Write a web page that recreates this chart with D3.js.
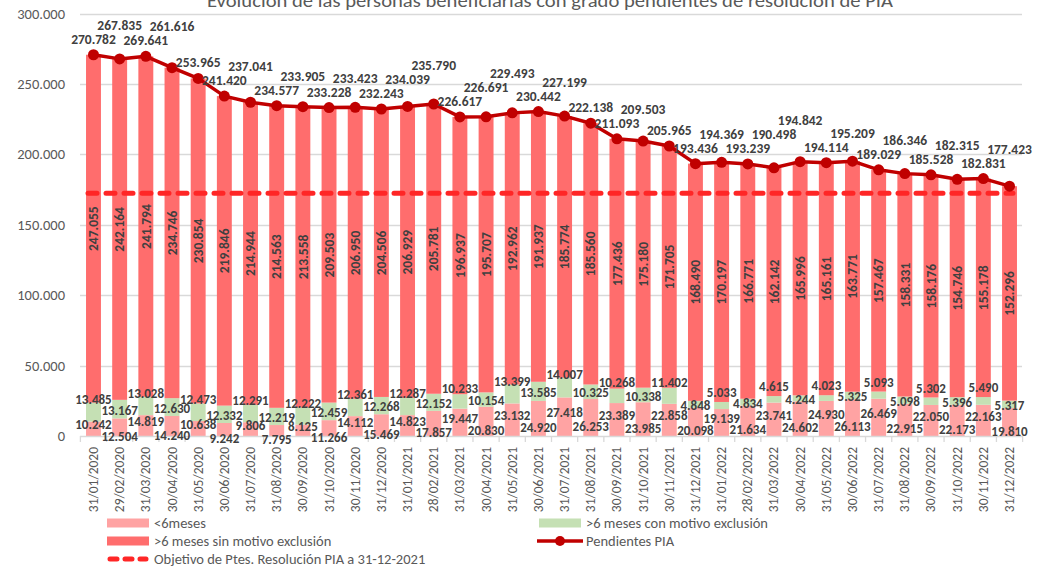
<!DOCTYPE html>
<html>
<head>
<meta charset="utf-8">
<script src="https://cdn.jsdelivr.net/npm/d3@7"></script>
<style>
  body { margin: 0; background: #fff; }
  svg { display: block; font-family: Carlito, Lato, "Liberation Sans", sans-serif; }
</style>
</head>
<body>
<svg id="chart" width="1057" height="568"></svg>
<script>
// datos (personas pendientes de resolucion de PIA)
const fechas = ["31/01/2020","29/02/2020","31/03/2020","30/04/2020","31/05/2020","30/06/2020",
  "31/07/2020","31/08/2020","30/09/2020","31/10/2020","30/11/2020","31/12/2020",
  "31/01/2021","28/02/2021","31/03/2021","30/04/2021","31/05/2021","30/06/2021",
  "31/07/2021","31/08/2021","30/09/2021","31/10/2021","30/11/2021","31/12/2021",
  "31/01/2022","28/02/2022","31/03/2022","30/04/2022","31/05/2022","30/06/2022",
  "31/07/2022","31/08/2022","30/09/2022","31/10/2022","30/11/2022","31/12/2022"];

const menos6 = [10242,12504,14819,14240,10638,9242,9806,7795,8125,11266,14112,15469,
  14823,17857,19447,20830,23132,24920,27418,26253,23389,23985,22858,20098,
  19139,21634,23741,24602,24930,26113,26469,22915,22050,22173,22163,19810];

const conMotivo = [13485,13167,13028,12630,12473,12332,12291,12219,12222,12459,12361,12268,
  12287,12152,10233,10154,13399,13585,14007,10325,10268,10338,11402,4848,
  5033,4834,4615,4244,4023,5325,5093,5098,5302,5396,5490,5317];

const sinMotivo = [247055,242164,241794,234746,230854,219846,214944,214563,213558,209503,206950,204506,
  206929,205781,196937,195707,192962,191937,185774,185560,177436,175180,171705,168490,
  170197,166771,162142,165996,165161,163771,157467,158331,158176,154746,155178,152296];

const pendientes = [270782,267835,269641,261616,253965,241420,237041,234577,233905,233228,233423,232243,
  234039,235790,226617,226691,229493,230442,227199,222138,211093,209503,205965,193436,
  194369,193239,190498,194842,194114,195209,189029,186346,185528,182315,182831,177423];

const objetivo = 172400;

const yTicks = [0, 50000, 100000, 150000, 200000, 250000, 300000];

const series = [
  { key: "menos6", name: "<6meses", color: "#FFA3A3" },
  { key: "con", name: ">6 meses con motivo exclusión", color: "#C5E0B4" },
  { key: "sin", name: ">6 meses sin motivo exclusión", color: "#FF6D6D" }
];

const rows = fechas.map((f, i) => ({
  fecha: f, menos6: menos6[i], con: conMotivo[i], sin: sinMotivo[i], pend: pendientes[i]
}));

const es = d3.formatLocale({ decimal: ",", thousands: ".", grouping: [3], currency: ["", " €"] });
const fmt = es.format(",d");

const svg = d3.select("#chart");
const textCol = "#404040", axisCol = "#595959";

const x = d3.scaleBand().domain(fechas).range([80.4, 1022.6]).paddingInner(0.43).paddingOuter(0.215);
const y = d3.scaleLinear().domain([0, 300000]).range([436, 13.6]);

// titulo (cortado arriba como en el original)
svg.append("text")
  .attr("x", 550).attr("y", 7)
  .attr("text-anchor", "middle")
  .attr("textLength", 686).attr("lengthAdjust", "spacingAndGlyphs")
  .style("font-size", "19px").style("fill", axisCol)
  .text("Evolución de las personas beneficiarias con grado pendientes de resolución de PIA");

// rejilla
svg.append("g").selectAll("line")
  .data(yTicks.filter(d => d > 0))
  .join("line")
  .attr("x1", 80).attr("x2", 1022)
  .attr("y1", d => Math.round(y(d)) + 0.5).attr("y2", d => Math.round(y(d)) + 0.5)
  .attr("stroke", "#D9D9D9").attr("stroke-width", 1.3);

// eje y
svg.append("g").selectAll("text")
  .data(yTicks)
  .join("text")
  .attr("x", 65).attr("y", d => y(d))
  .attr("dy", "0.35em")
  .attr("text-anchor", "end")
  .style("font-size", "14.5px").style("fill", axisCol)
  .text(d => fmt(d));

// barras apiladas
const stacked = d3.stack().keys(series.map(s => s.key))(rows);

const layers = svg.append("g").selectAll("g")
  .data(stacked)
  .join("g")
  .attr("fill", (d, i) => series[i].color);

layers.selectAll("rect")
  .data(d => d)
  .join("rect")
  .attr("x", d => x(d.data.fecha))
  .attr("width", x.bandwidth())
  .attr("y", d => y(d[1]))
  .attr("height", d => y(d[0]) - y(d[1]));

// eje x
const xAxis = svg.append("g");
xAxis.append("line")
  .attr("x1", 80).attr("x2", 1022.6).attr("y1", 436.5).attr("y2", 436.5)
  .attr("stroke", "#D9D9D9").attr("stroke-width", 1.3);

const step = x.step();
xAxis.selectAll("line.tick")
  .data(d3.range(fechas.length + 1))
  .join("line")
  .attr("class", "tick")
  .attr("x1", i => 80.4 + i * step).attr("x2", i => 80.4 + i * step)
  .attr("y1", 436).attr("y2", 442)
  .attr("stroke", "#D9D9D9").attr("stroke-width", 1.3);

xAxis.selectAll("text")
  .data(fechas)
  .join("text")
  .attr("transform", d => `translate(${x(d) + x.bandwidth() / 2 + 4.5},447) rotate(-90)`)
  .attr("text-anchor", "end")
  .style("font-size", "13.5px").style("fill", axisCol)
  .text(d => d);

// objetivo
svg.append("line")
  .attr("x1", 88).attr("x2", 1013)
  .attr("y1", y(objetivo)).attr("y2", y(objetivo))
  .attr("stroke", "#FF2626").attr("stroke-width", 5)
  .attr("stroke-linecap", "round")
  .attr("stroke-dasharray", "9,9");

// linea pendientes
const cx = d => x(d.fecha) + x.bandwidth() / 2;
svg.append("path")
  .datum(rows)
  .attr("d", d3.line().x(cx).y(d => y(d.pend)))
  .attr("fill", "none")
  .attr("stroke", "#C00000").attr("stroke-width", 3.5)
  .attr("stroke-linejoin", "round");

svg.append("g").selectAll("circle")
  .data(rows)
  .join("circle")
  .attr("cx", cx).attr("cy", d => y(d.pend))
  .attr("r", 5.5)
  .attr("fill", "#C00000");

// etiquetas
const labels = svg.append("g")
  .style("fill", textCol).style("font-size", "13.5px");

// colocar etiquetas de la linea sin que se pisen con la anterior
const pendY = [];
rows.forEach((d, i) => {
  let ly = y(d.pend) - 11;
  if (i > 0 && Math.abs(ly - pendY[i - 1]) < 14) ly = pendY[i - 1] - 14;
  pendY.push(ly);
});

labels.selectAll("text.pend")
  .data(rows)
  .join("text")
  .attr("class", "pend")
  .attr("x", cx)
  .attr("y", (d, i) => pendY[i])
  .attr("text-anchor", "middle")
  .style("font-weight", "bold")
  .text(d => fmt(d.pend));

// sin motivo: girado dentro de la barra
labels.selectAll("text.sin")
  .data(stacked[2])
  .join("text")
  .attr("class", "sin")
  .attr("transform", d => `translate(${cx(d.data)},${(y(d[0]) + y(d[1])) / 2}) rotate(-90)`)
  .attr("text-anchor", "middle")
  .attr("dy", "0.35em")
  .style("font-weight", "bold")
  .text(d => fmt(d[1] - d[0]));

labels.selectAll("text.con")
  .data(stacked[1])
  .join("text")
  .attr("class", "con")
  .attr("x", d => cx(d.data))
  .attr("y", (d, i) => (y(d[0]) + y(d[1])) / 2 - (i % 2 === 0 ? 13 : -1))
  .attr("dy", "0.35em")
  .attr("text-anchor", "middle")
  .style("font-weight", "bold")
  .style("font-size", "13px")
  .text(d => fmt(d[1] - d[0]));

labels.selectAll("text.menos")
  .data(stacked[0])
  .join("text")
  .attr("class", "menos")
  .attr("x", d => cx(d.data))
  .attr("y", (d, i) => (y(d[0]) + y(d[1])) / 2 + (i % 2 === 0 ? -4 : 9))
  .attr("dy", "0.35em")
  .attr("text-anchor", "middle")
  .style("font-weight", "bold")
  .style("font-size", "13px")
  .text(d => fmt(d[1] - d[0]));

// leyenda
const legend = svg.append("g").style("font-size", "14.5px").style("fill", axisCol);
const legItems = [
  { name: series[0].name, type: "rect", color: series[0].color, x: 107, y: 523 },
  { name: series[1].name, type: "rect", color: series[1].color, x: 539, y: 523 },
  { name: series[2].name, type: "rect", color: series[2].color, x: 107, y: 541 },
  { name: "Pendientes PIA", type: "line", color: "#C00000", x: 539, y: 541 },
  { name: "Objetivo de Ptes. Resolución PIA a 31-12-2021", type: "dash", color: "#FF2626", x: 107, y: 559 }
];

const li = legend.selectAll("g")
  .data(legItems)
  .join("g")
  .attr("transform", d => `translate(${d.x},${d.y})`);

li.filter(d => d.type === "rect").append("rect")
  .attr("x", 0).attr("y", -4.5).attr("width", 42).attr("height", 9)
  .attr("fill", d => d.color);

li.filter(d => d.type === "line").append("line")
  .attr("x1", -2).attr("x2", 44).attr("y1", 0).attr("y2", 0)
  .attr("stroke", d => d.color).attr("stroke-width", 3.5);
li.filter(d => d.type === "line").append("circle")
  .attr("cx", 21).attr("cy", 0).attr("r", 5)
  .attr("fill", d => d.color);

li.filter(d => d.type === "dash").append("line")
  .attr("x1", 3).attr("x2", 39).attr("y1", 0).attr("y2", 0)
  .attr("stroke", d => d.color).attr("stroke-width", 5)
  .attr("stroke-linecap", "round").attr("stroke-dasharray", "7,8");

li.append("text")
  .attr("x", 47).attr("y", 0).attr("dy", "0.35em")
  .text(d => d.name);
</script>
</body>
</html>
